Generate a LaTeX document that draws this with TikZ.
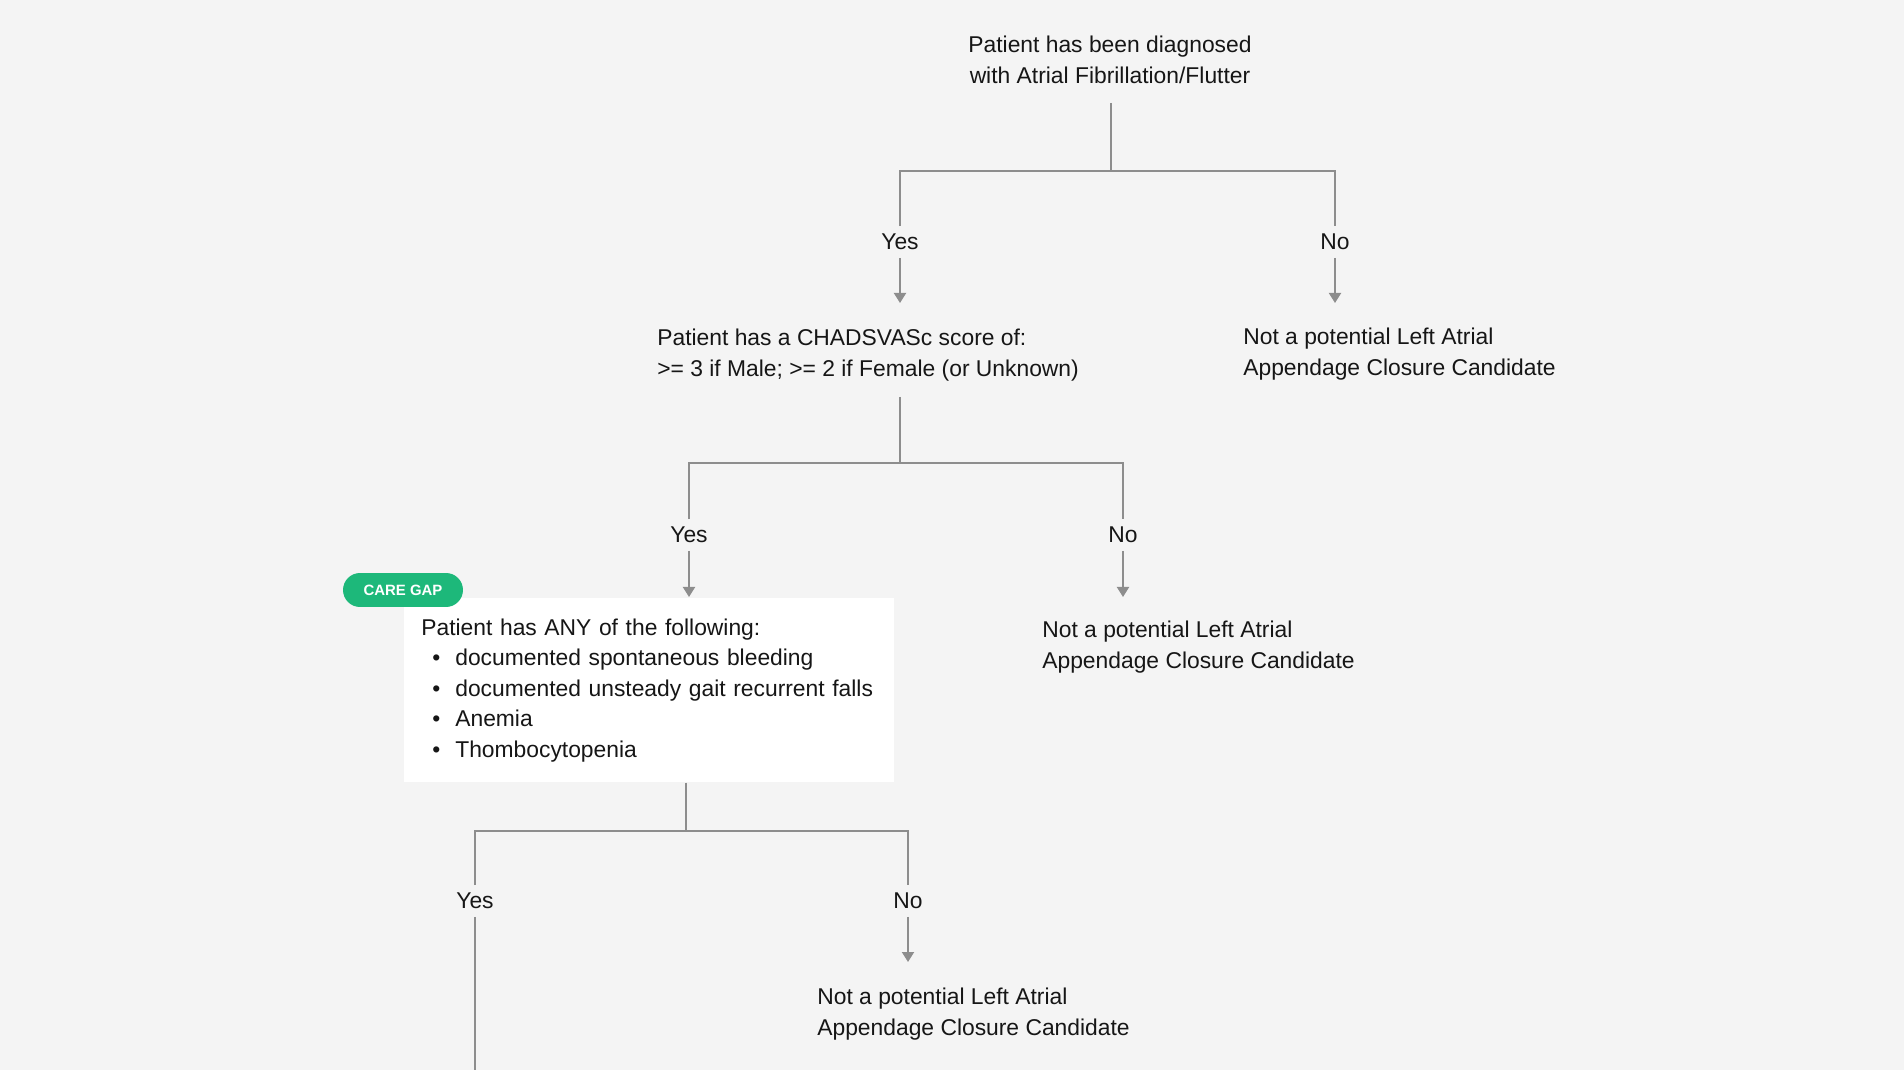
\documentclass[tikz,border=0pt]{standalone}
\usepackage{fontspec}
\setmainfont{Liberation Sans}
\usetikzlibrary{arrows.meta}

\definecolor{bggray}{HTML}{F4F4F4}
\definecolor{linegray}{HTML}{8D8D8D}
\definecolor{ink}{HTML}{161616}
\definecolor{gapgreen}{HTML}{1DB87A}

\tikzset{
  txt/.style={font=\fontsize{13}{17.3}\selectfont, text=ink, inner sep=0pt},
  lbl/.style={txt, minimum height=0.62cm},
  link/.style={draw=linegray, line width=1.1pt},
  arr/.style={link, -{Triangle[width=0.24cm,length=0.2cm]}},
  listbox/.style={txt, fill=white, align=left, anchor=north west,
    minimum width=9.8cm, minimum height=3.68cm, inner xsep=0.34cm, text width=9.12cm},
  gaptag/.style={fill=gapgreen, text=white, rounded corners=0.34cm,
    minimum width=2.4cm, minimum height=0.68cm, inner sep=0pt,
    font=\fontsize{8.5}{10}\selectfont\bfseries}
}

\begin{document}
\begin{tikzpicture}[x=0.02cm, y=-0.02cm]

\fill[bggray] (0,0) rectangle (1904,1070);
\useasboundingbox (0,0) rectangle (1904,1070);

% first question
\node[txt, align=center] (diag) at (1110,60) {Patient has been diagnosed\\with Atrial Fibrillation/Flutter};
\coordinate (stem1) at (1111,103);
\coordinate (split1) at (1111,171);
\node[lbl] (yes1) at (900,242) {Yes};
\node[lbl] (no1) at (1335,242) {No};
\coordinate (tip1y) at (900,303);
\coordinate (tip1n) at (1335,303);
\draw[link] (stem1) -- (split1);
\draw[link] (yes1.north) |- (split1) -| (no1.north);
\draw[arr] (yes1.south) -- (tip1y);
\draw[arr] (no1.south) -- (tip1n);

\node[txt, align=left, anchor=west] (notlaa1) at (1243,354) {Not a potential Left Atrial\\Appendage Closure Candidate};

% second question
\node[txt, align=left, anchor=west] (chads) at (657,355) {Patient has a CHADSVASc score of:\\>= 3 if Male; >= 2 if Female (or Unknown)};
\coordinate (stem2) at (900,397);
\coordinate (split2) at (900,463);
\node[lbl] (yes2) at (689,535) {Yes};
\node[lbl] (no2) at (1123,535) {No};
\coordinate (tip2y) at (689,597);
\coordinate (tip2n) at (1123,597);
\draw[link] (stem2) -- (split2);
\draw[link] (yes2.north) |- (split2) -| (no2.north);
\draw[arr] (yes2.south) -- (tip2y);
\draw[arr] (no2.south) -- (tip2n);

\node[txt, align=left, anchor=west] (notlaa2) at (1042,647) {Not a potential Left Atrial\\Appendage Closure Candidate};

% third question
\node[listbox] (anyof) at (404,598) {Patient has ANY of the following:\\
  \hspace*{0.22cm}\textbullet\hspace{0.3cm}documented spontaneous bleeding\\
  \hspace*{0.22cm}\textbullet\hspace{0.3cm}documented unsteady gait recurrent falls\\
  \hspace*{0.22cm}\textbullet\hspace{0.3cm}Anemia\\
  \hspace*{0.22cm}\textbullet\hspace{0.3cm}Thombocytopenia};
\node[gaptag] (caregap) at (403,590) {CARE GAP};
\coordinate (split3) at (686,831);
\node[lbl] (yes3) at (475,901) {Yes};
\node[lbl] (no3) at (908,901) {No};
\coordinate (tip3n) at (908,962);
\coordinate (exit3) at (475,1070);
\draw[link] (anyof.south -| split3) -- (split3);
\draw[link] (yes3.north) |- (split3) -| (no3.north);
\draw[link] (yes3.south) -- (exit3);
\draw[arr] (no3.south) -- (tip3n);

\node[txt, align=left, anchor=west] (notlaa3) at (817,1014) {Not a potential Left Atrial\\Appendage Closure Candidate};

\end{tikzpicture}
\end{document}
